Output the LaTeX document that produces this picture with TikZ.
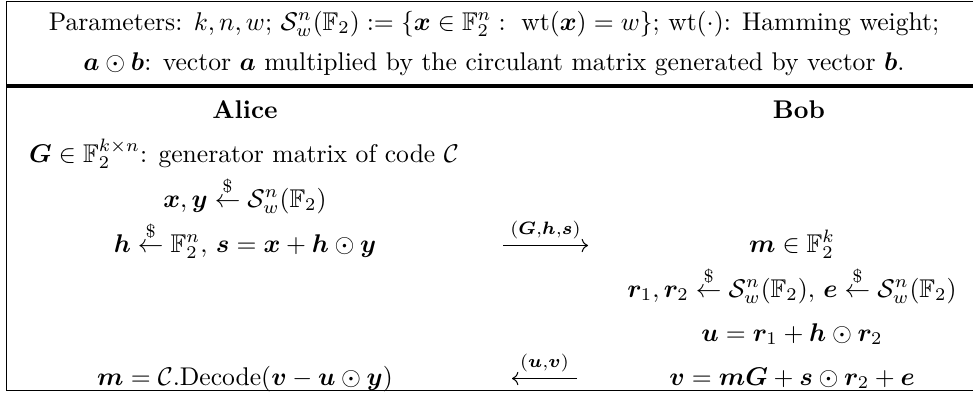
\documentclass[tikz,border=0pt]{standalone}
\usepackage{amsmath,amssymb,bm}
\usepackage{tikz}
\usetikzlibrary{arrows.meta}
\newcommand{\rnd}{\overset{\$}{\leftarrow}}
\newcommand{\Sw}{\mathcal{S}_w^n(\mathbb{F}_2)}

\begin{document}
\begin{tikzpicture}[
  x=0.3906pt, y=-0.3906pt,
  txt/.style  ={inner sep=0pt, anchor=base},
  who/.style  ={inner sep=0pt, anchor=base, font=\bfseries},
  frame/.style={line width=0.6pt},
  sep/.style  ={line width=1.6pt},
  msg/.style  ={-{Computer Modern Rightarrow}, line width=0.4pt},
  lbl/.style  ={inner sep=0pt, above=2.5pt}
]
\useasboundingbox (0,0) rectangle (973,394);
% outer frame (right side falls off the page)
\draw[frame] (990,1.5) -- (6.5,1.5) -- (6.5,390.5) -- (990,390.5);
\draw[sep] (6.5,86) -- (990,86);
% header
\node[txt] (params1) at (494,30)
  {Parameters: $k,n,w$; $\Sw := \{\bm{x}\in\mathbb{F}_2^n:\ \mathrm{wt}(\bm{x})=w\}$; $\mathrm{wt}(\cdot)$: Hamming weight;};
\node[txt] (params2) at (494,70)
  {$\bm{a}\odot\bm{b}$: vector $\bm{a}$ multiplied by the circulant matrix generated by vector $\bm{b}$.};
% parties
\node[who] (alice) at (245,118) {Alice};
\node[who] (bob)   at (799,118) {Bob};
% Alice
\node[txt] (gen)    at (244,162) {$\bm{G}\in\mathbb{F}_2^{k\times n}$: generator matrix of code $\mathcal{C}$};
\node[txt] (xy)     at (245,207) {$\bm{x},\bm{y}\rnd\Sw$};
\node[txt] (hs)     at (245,252) {$\bm{h}\rnd\mathbb{F}_2^n,\,\bm{s}=\bm{x}+\bm{h}\odot\bm{y}$};
\node[txt] (decode) at (245,385) {$\bm{m}=\mathcal{C}.\mathrm{Decode}(\bm{v}-\bm{u}\odot\bm{y})$};
% Bob
\node[txt] (mrand)  at (792,252) {$\bm{m}\in\mathbb{F}_2^k$};
\node[txt] (rsamp)  at (792,297) {$\bm{r}_1,\bm{r}_2\rnd\Sw,\,\bm{e}\rnd\Sw$};
\node[txt] (ucomp)  at (792,341) {$\bm{u}=\bm{r}_1+\bm{h}\odot\bm{r}_2$};
\node[txt] (vcomp)  at (792,385) {$\bm{v}=\bm{m}\bm{G}+\bm{s}\odot\bm{r}_2+\bm{e}$};
% messages
\coordinate (m1a) at (503,245.5); \coordinate (m1b) at (588,245.5);
\coordinate (m2a) at (577,378.5); \coordinate (m2b) at (512,378.5);
\draw[msg] (m1a) -- (m1b) node[midway, lbl] (lab1) {$\scriptstyle(\bm{G},\bm{h},\bm{s})$};
\draw[msg] (m2a) -- (m2b) node[midway, lbl] (lab2) {$\scriptstyle(\bm{u},\bm{v})$};
\end{tikzpicture}
\end{document}
